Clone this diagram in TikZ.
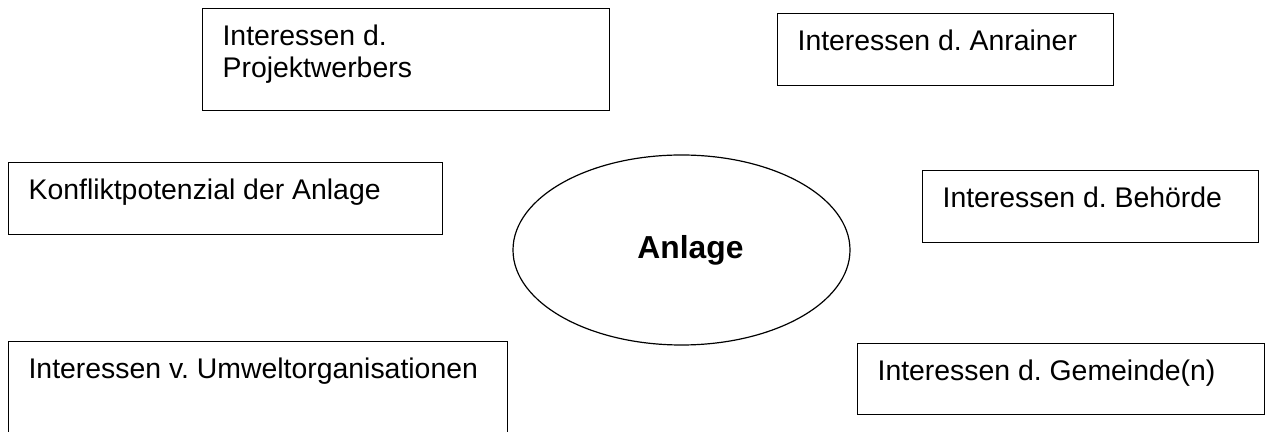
\documentclass[tikz,border=0pt]{standalone}
\usepackage{fontspec}
\setmainfont{Liberation Sans}
\usetikzlibrary{shapes.geometric}

% fixed-size text area, text set from the top left
\newcommand{\boxtext}[3]{\parbox[c][#2][t]{#1}{\raggedright #3}}

\begin{document}
\frenchspacing
\begin{tikzpicture}[x=0.5pt, y=-0.5pt,
        box/.style={rectangle, draw, line width=0.6pt, anchor=north west, inner xsep=10pt, inner ysep=8pt, font=\fontsize{14.2}{16.3}\selectfont},
        core/.style={ellipse, draw, line width=0.6pt, minimum width=168.5pt, minimum height=95pt, inner sep=0pt, font=\fontsize{15.9}{18}\selectfont\bfseries}
    ]
        \path[use as bounding box, clip] (0,0) rectangle (1265,432);
        \fill[white] (0,0) rectangle (1265,432);

        % the plant in the middle
        \node[core] (anlage) at (681.5,250) {\hspace*{9pt}Anlage};

        % the parties around it
        \node[box] (projekt) at (202,8) {\boxtext{183.5pt}{35pt}{Interessen d.\\Projektwerbers}};
        \node[box] (anrainer) at (777,13) {\boxtext{148pt}{20pt}{Interessen d. Anrainer}};
        \node[box] (konflikt) at (8,162) {\boxtext{197pt}{20pt}{Konfliktpotenzial der Anlage}};
        \node[box] (behoerde) at (922,170) {\boxtext{148pt}{20pt}{Interessen d. Behörde}};
        \node[box] (umwelt) at (8,341) {\boxtext{229.5pt}{34pt}{Interessen v. Umweltorganisationen}};
        \node[box] (gemeinde) at (857,343) {\boxtext{183.5pt}{19.5pt}{Interessen d. Gemeinde(n)}};
    \end{tikzpicture}
\end{document}
